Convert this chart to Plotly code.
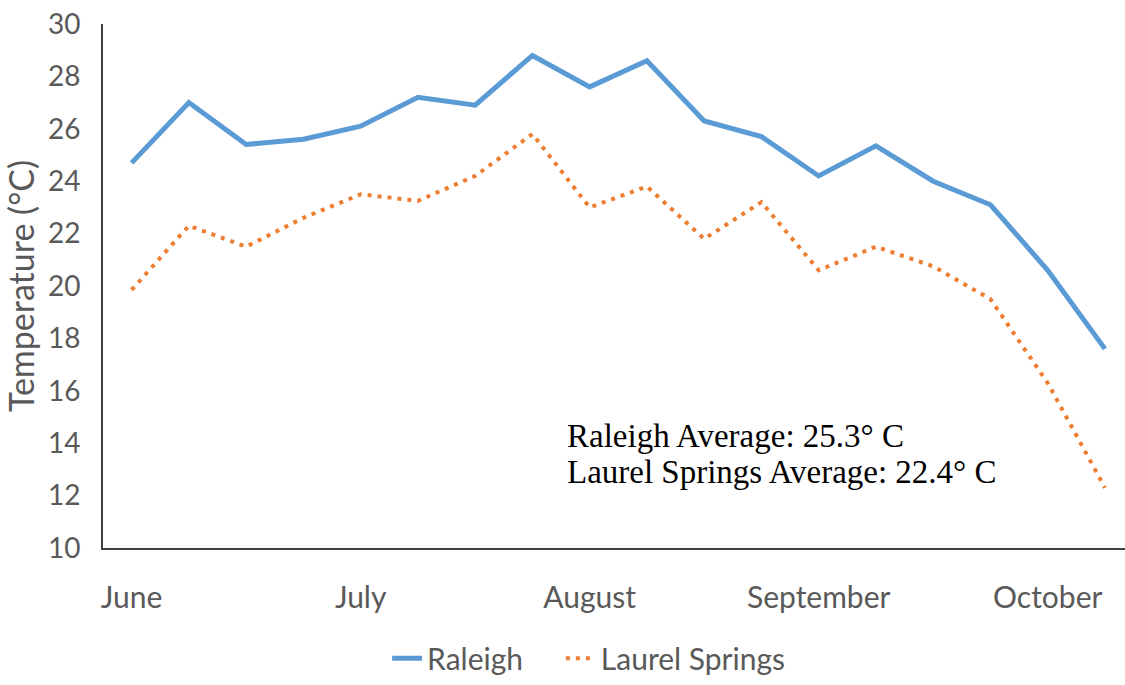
import plotly.graph_objects as go

# Weekly mean temperatures (°C), June through October
weeks = list(range(18))
raleigh = [24.7, 27.0, 25.4, 25.6, 26.1, 27.2, 26.9, 28.8, 27.6, 28.6,
           26.3, 25.7, 24.2, 25.35, 24.0, 23.1, 20.6, 17.6]
laurel_springs = [19.85, 22.3, 21.5, 22.6, 23.5, 23.25, 24.2, 25.8, 23.0, 23.8,
                  21.8, 23.2, 20.6, 21.5, 20.75, 19.5, 16.3, 12.3]

month_ticks = [0, 4, 8, 12, 16]
month_labels = ["June", "July", "August", "September", "October"]
y_ticks = list(range(10, 31, 2))

label_font = "Lato, Roboto, sans-serif"
serif_font = "Liberation Serif, Times New Roman, serif"
gray = "#595959"

fig = go.Figure()
fig.add_trace(go.Scatter(
    x=weeks, y=raleigh, mode="lines", name="Raleigh", legend="legend",
    line=dict(color="#5B9BD5", width=5),
))
fig.add_trace(go.Scatter(
    x=weeks, y=laurel_springs, mode="lines", name="Laurel Springs", legend="legend2",
    line=dict(color="#ED7D31", width=4, dash="4px,6px"),
))

# Season averages, one text line each
for ypos, line_text in [(0.214, "Raleigh Average: 25.3° C"),
                        (0.145, "Laurel Springs Average: 22.4° C")]:
    fig.add_annotation(
        x=0.452, y=ypos, xref="paper", yref="paper", xanchor="left", yanchor="middle",
        text=line_text, showarrow=False, align="left",
        font=dict(family=serif_font, size=33, color="black"),
    )

legend_style = dict(orientation="h", yanchor="bottom", y=-0.26, xanchor="left",
                    bgcolor="rgba(0,0,0,0)",
                    font=dict(family=label_font, size=30, color=gray))

fig.update_layout(
    width=1125, height=685,
    margin=dict(l=103, r=0, t=24, b=137),
    paper_bgcolor="white", plot_bgcolor="white",
    showlegend=True,
    legend=dict(x=0.278, **legend_style),
    legend2=dict(x=0.448, **legend_style),
    xaxis=dict(
        range=[-0.5, 17.35], tickvals=month_ticks, ticktext=month_labels,
        showgrid=False, zeroline=False, showline=True, linecolor="#404040", linewidth=2,
        ticks="", ticklabelstandoff=22,
        tickfont=dict(family=label_font, size=30, color=gray),
    ),
    yaxis=dict(
        range=[10, 30], tickvals=y_ticks,
        showgrid=False, zeroline=False, showline=True, linecolor="#404040", linewidth=2,
        ticks="", ticklabelstandoff=15,
        tickfont=dict(family=label_font, size=28, color=gray),
        title=dict(text="Temperature (°C)", standoff=6,
                   font=dict(family=label_font, size=34, color=gray)),
    ),
)

fig.write_html("out.html")
